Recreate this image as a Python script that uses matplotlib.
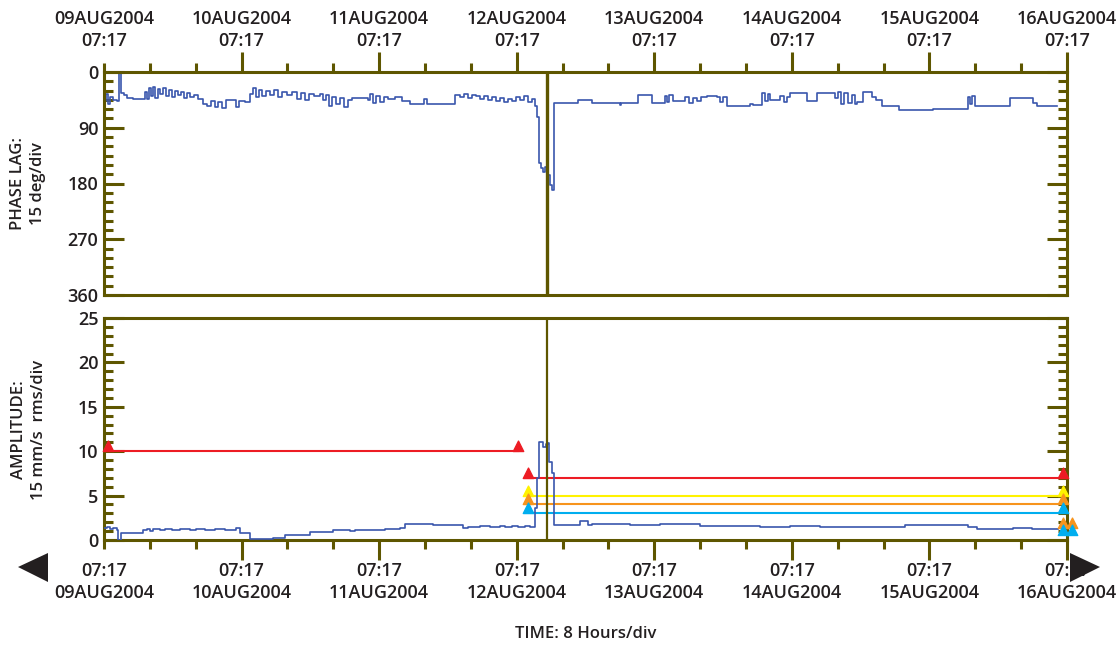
import matplotlib
matplotlib.use('Agg')
import matplotlib.pyplot as plt
from matplotlib.patches import Polygon
from matplotlib.path import Path

# ---- data (time in hours from 09AUG2004 07:17) ----
phase_hours = [0, 0.35, 0.7, 1.05, 1.57, 2.27, 2.62, 2.97, 3.5, 4.0, 5.06, 7.15, 7.5, 7.85, 8.2,
               8.55, 8.9, 9.42, 9.77, 10.3, 10.8, 11.3, 11.9, 12.4, 12.9, 13.4, 14.0, 14.5, 15.0,
               15.7, 16.4, 17.3, 18.0, 18.7, 19.4, 19.9, 20.6, 21.3, 22.5, 23.0, 23.6, 24.6, 25.5,
               26.0, 26.5, 27.0, 27.6, 28.3, 29.0, 29.7, 30.4, 31.1, 31.9, 32.8, 33.7, 34.4, 35.1,
               35.8, 36.6, 37.7, 38.2, 38.7, 39.3, 39.8, 40.5, 41.2, 41.9, 42.6, 43.3, 46.1, 46.4,
               46.9, 47.5, 48.2, 48.8, 49.5, 50.8, 52.0, 53.4, 55.8, 56.4, 57.7, 61.2, 62.1, 62.8,
               63.5, 64.2, 64.9, 65.6, 66.3, 67.0, 67.7, 68.4, 69.1, 69.8, 70.5, 71.2, 71.9, 72.6,
               73.3, 74.0, 74.7, 75.2, 75.5, 75.9, 76.2, 76.6, 76.9, 77.3, 77.8, 78.2, 78.5, 82.7,
               85.1, 90.0, 90.2, 93.2, 95.6, 97.9, 98.2, 98.6, 99.3, 101.4, 102.1, 102.8, 103.5,
               104.2, 105.2, 106.9, 107.5, 108.0, 108.7, 112.7, 113.2, 114.8, 115.3, 115.8, 116.2,
               117.9, 118.6, 119.2, 119.7, 122.6, 124.4, 127.5, 128.0, 128.6, 129.1, 129.8, 130.5,
               131.0, 131.4, 132.4, 134.0, 134.7, 135.7, 138.7, 144.6, 150.7, 151.1, 151.4, 152.0,
               158.1, 162.1, 162.8, 166.3]
phase_deg = [47, 35, 52, 40, 45, 47, 0, 34, 37, 42, 44, 32, 44, 26, 39,
             24, 42, 27, 36, 26, 39, 29, 40, 31, 37, 32, 42, 34, 40,
             37, 44, 52, 55, 47, 56, 48, 58, 45, 45, 56, 47, 48, 36,
             26, 40, 29, 39, 31, 37, 29, 40, 32, 37, 32, 44, 34, 45,
             36, 39, 36, 45, 37, 55, 40, 52, 42, 56, 45, 42, 45, 36,
             50, 39, 48, 40, 44, 40, 47, 52, 44, 52, 52, 37, 40, 36,
             42, 37, 39, 44, 39, 45, 40, 47, 42, 48, 44, 47, 40, 45,
             39, 48, 44, 55, 73, 147, 155, 161, 153, 166, 182, 190, 50, 45,
             50, 53, 50, 37, 50, 39, 48, 37, 47, 40, 50, 42, 47,
             40, 39, 40, 48, 40, 55, 52, 53, 34, 47, 36, 45,
             39, 48, 40, 34, 47, 34, 42, 32, 52, 34, 50, 37,
             52, 48, 32, 40, 45, 55, 61, 60, 40, 52, 39, 55,
             42, 50, 55, 55]

amp_hours = [0, 0.5, 1.05, 1.57, 2.27, 2.44, 2.97, 6.8, 7.5, 8.0, 8.55, 9.77, 10.6, 11.9, 13.3,
             15.0, 16.0, 17.6, 19.4, 21.1, 23.0, 23.7, 25.5, 29.5, 31.6, 35.9, 40.0, 42.9, 43.8,
             46.4, 49.0, 51.6, 52.5, 57.4, 62.6, 63.5, 65.6, 67.3, 69.1, 70.0, 71.2, 72.2, 73.4,
             74.3, 75.0, 75.2, 75.5, 75.9, 76.6, 77.1, 77.5, 77.6, 78.2, 78.5, 83.0, 84.4, 85.1,
             86.5, 91.8, 97.0, 104.0, 110.1, 114.4, 119.7, 124.9, 130.1, 135.4, 139.7, 150.7,
             152.3, 158.6, 161.9, 166.4]
amp_vals = [1.35, 1.46, 1.24, 1.35, 1.13, 0.0, 0.8, 1.13, 1.24, 1.0, 1.24, 1.13, 1.24, 1.13, 1.24,
            1.13, 1.24, 1.13, 1.24, 1.13, 1.3, 0.8, 0.06, 0.22, 0.56, 0.9, 1.13, 1.0, 1.18,
            1.13, 1.24, 1.3, 1.75, 1.7, 1.4, 1.52, 1.58, 1.46, 1.58, 1.46, 1.63, 1.46, 1.58,
            1.46, 1.52, 3.6, 7.0, 11.0, 10.5, 10.8, 10.9, 8.8, 7.5, 1.7, 2.15, 1.7, 1.75,
            1.8, 1.7, 1.75, 1.58, 1.63, 1.46, 1.58, 1.46, 1.52, 1.46, 1.7, 1.46,
            1.24, 1.38, 1.24, 1.24]

# alarm levels
alarm_before = 10.0             # red, before the cursor
alarm_after = [7.0, 5.0, 4.0, 3.0]
alarm_colors = ['#ed1c24', '#fff200', '#f7941d', '#00aeef']
cursor_hour = 77.3

top_labels = ['09AUG2004\n07:17', '10AUG2004\n07:17', '11AUG2004\n07:17', '12AUG2004\n07:17',
              '13AUG2004\n07:17', '14AUG2004\n07:17', '15AUG2004\n07:17', '16AUG2004\n07:17']
bottom_labels = ['07:17\n09AUG2004', '07:17\n10AUG2004', '07:17\n11AUG2004', '07:17\n12AUG2004',
                 '07:17\n13AUG2004', '07:17\n14AUG2004', '07:17\n15AUG2004', '07:17\n16AUG2004']
day_hours = [0, 24, 48, 72, 96, 120, 144, 168]

OLIVE = '#5e5600'
BLUE = '#3a56ad'
TXT = '#231f20'
plt.rcParams['font.family'] = ['Open Sans', 'DejaVu Sans']
plt.rcParams['font.weight'] = 'semibold'

fig = plt.figure(figsize=(11.2, 6.47), dpi=100, facecolor='white')
ax1 = fig.add_axes([104/1120, 1-295/647, 963/1120, 223/647])
ax2 = fig.add_axes([104/1120, 1-540/647, 963/1120, 222/647])


def style_axis(ax, ymaj, ymin, top):
    for s in ax.spines.values():
        s.set_color(OLIVE)
        s.set_linewidth(2.2)
    ax.set_xlim(0, 168)
    ax.set_yticks(ymaj)
    ax.set_yticks(ymin, minor=True)
    ax.tick_params(axis='y', which='both', direction='in', left=True, right=True,
                   color=OLIVE, width=2.2, labelsize=13, pad=4, labelcolor=TXT)
    ax.tick_params(axis='y', which='major', length=14.5)
    ax.tick_params(axis='y', which='minor', length=6.5)
    ax.set_xticks(day_hours)
    ax.set_xticks([h for h in range(0, 169, 8) if h % 24], minor=True)
    ax.tick_params(axis='x', which='both', direction='out', color=OLIVE, width=2.2,
                   top=top, bottom=not top, labeltop=top, labelbottom=not top,
                   labelsize=13, pad=1, labelcolor=TXT)
    ax.tick_params(axis='x', which='major', length=14.5)
    ax.tick_params(axis='x', which='minor', length=6.5)
    t0 = ax.xaxis.get_major_ticks()[0]
    t0.tick1line.set_markersize(6.5)
    t0.tick2line.set_markersize(6.5)


# ---- phase panel ----
ax1.plot(phase_hours, phase_deg, drawstyle='steps-post', color=BLUE, lw=1.2)
ax1.set_ylim(360, 0)
style_axis(ax1, [0, 90, 180, 270, 360], list(range(0, 361, 15)), top=True)
ax1.set_xticklabels(top_labels, linespacing=1.35)
ax1.axvline(cursor_hour, color=OLIVE, lw=2.4)

# ---- amplitude panel ----
ax2.plot(amp_hours, amp_vals, drawstyle='steps-post', color=BLUE, lw=1.2, zorder=3)
ax2.set_ylim(0, 25)
style_axis(ax2, [0, 5, 10, 15, 20, 25], list(range(0, 26)), top=False)
ax2.set_xticklabels(bottom_labels, linespacing=1.35)
ax2.axvline(cursor_hour, color=OLIVE, lw=1.6, zorder=4)

# triangle marker sitting on its base
tri = Path([(-0.55, 0), (0.55, 0), (0, 1.1), (-0.55, 0)],
           [Path.MOVETO, Path.LINETO, Path.LINETO, Path.CLOSEPOLY])
MS = 15

ax2.plot([0, 72.2], [alarm_before, alarm_before], color=alarm_colors[0], lw=1.5, zorder=2)
ax2.plot([0.7, 72.2], [alarm_before, alarm_before], ls='none', marker=tri, ms=MS,
         color=alarm_colors[0], clip_on=False, zorder=5)
for lvl, c in zip(alarm_after, alarm_colors):
    ax2.plot([73.5, 166.8], [lvl, lvl], color=c, lw=1.5, zorder=2)
for lvl, c in zip(alarm_after, alarm_colors):
    ax2.plot([74.0, 167.3], [lvl, lvl], ls='none', marker=tri, ms=MS, color=c,
             clip_on=False, zorder=5)
# end-of-record alarm markers
ax2.plot([167.3, 168.9], [1.35, 1.35], ls='none', marker=tri, ms=MS, color=alarm_colors[2],
         clip_on=False, zorder=5)
ax2.plot([167.3, 168.9], [0.56, 0.56], ls='none', marker=tri, ms=MS, color=alarm_colors[3],
         clip_on=False, zorder=6)

# axis titles
fig.text(28/1120, 1-184/647, 'PHASE LAG:\n15 deg/div', rotation=90, ha='center', va='center',
         fontsize=12, color=TXT, linespacing=1.3)
fig.text(29/1120, 1-430/647, 'AMPLITUDE:\n15 mm/s  rms/div', rotation=90, ha='center',
         va='center', fontsize=12, color=TXT, linespacing=1.3)
fig.text(586/1120, 1-634/647, 'TIME: 8 Hours/div', ha='center', va='center', fontsize=12,
         color=TXT)

# scroll arrows
def fig_poly(pts):
    return Polygon([(x/1120, 1-y/647) for x, y in pts], closed=True, transform=fig.transFigure,
                   facecolor=TXT, edgecolor='none', zorder=10)

fig.add_artist(fig_poly([(18, 567), (48, 553), (48, 582)]))
fig.add_artist(fig_poly([(1070, 553), (1070, 582), (1100, 567)]))

fig.savefig('out.png', dpi=100, facecolor='white')
